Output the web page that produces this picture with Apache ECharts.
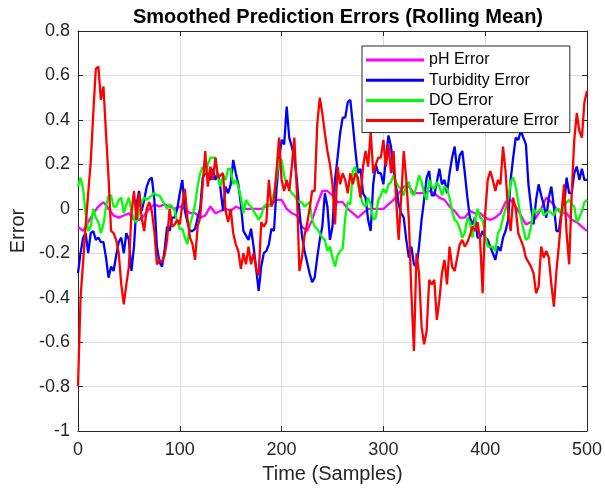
<!DOCTYPE html>
<html>
<head>
<meta charset="utf-8">
<script src="https://cdn.jsdelivr.net/npm/echarts@6/dist/echarts.min.js"></script>
<style>
  html, body { margin: 0; padding: 0; background: #fff; }
  #chart { width: 605px; height: 490px; }
</style>
</head>
<body>
<div id="chart"></div>
<script>
// pH is read every 5 samples, the other three every 2.5 samples (t = 0..500)
const phStep = 5;
const fineStep = 2.5;

const phErr = [
  -0.08, -0.1, -0.06, -0.02, 0.01, 0.03, 0.0, -0.03, -0.04, -0.03,
  -0.02, -0.05, -0.05, -0.03, 0.0, 0.02, 0.01, 0.02, 0.01, 0.0,
  0.01, 0.0, -0.02, -0.02, -0.04, -0.03, 0.01, -0.02, -0.01, 0.0,
  -0.01, 0.01, 0.0, 0.0, 0.0, 0.0, 0.0, 0.01, 0.02, 0.04,
  0.04, 0.0, -0.02, -0.03, -0.08, -0.1, -0.05, 0.02, 0.08, 0.08,
  0.06, 0.03, 0.03, 0.0, -0.02, -0.04, -0.02, 0.0, 0.0, 0.0,
  0.0, 0.02, 0.04, 0.07, 0.1, 0.1, 0.07, 0.07, 0.07, 0.08,
  0.07, 0.05, 0.04, 0.01, -0.01, -0.04, -0.04, -0.01, -0.02, -0.02,
  -0.04, -0.05, -0.04, -0.02, 0.03, 0.04, 0.01, -0.03, -0.07, -0.06,
  -0.04, 0.0, 0.05, 0.03, 0.0, -0.02, -0.02, -0.05, -0.06, -0.08,
  -0.1
];

const turbidityErr = [
  -0.29, -0.2, -0.13, -0.11, -0.2, -0.11, -0.1, -0.14, -0.13, -0.15,
  -0.15, -0.22, -0.31, -0.26, -0.28, -0.21, -0.15, -0.13, -0.2, -0.11,
  -0.14, -0.28, -0.17, 0.02, 0.08, -0.01, 0.04, 0.1, 0.13, 0.14,
  0.04, -0.17, -0.24, -0.26, -0.19, -0.08, -0.1, -0.04, -0.04, 0.0,
  0.07, 0.13, -0.01, -0.06, -0.1, -0.1, -0.09, -0.04, 0.0, 0.14,
  0.16, 0.16, 0.13, 0.18, 0.13, 0.16, 0.09, -0.01, 0.1, 0.07,
  0.11, 0.22, 0.16, 0.11, 0.02, -0.1, -0.12, -0.14, -0.09, -0.17,
  -0.27, -0.37, -0.26, -0.2, -0.19, -0.16, -0.09, -0.1, 0.09, 0.22,
  0.31, 0.29, 0.46, 0.32, 0.28, 0.23, 0.13, -0.01, -0.12, -0.19,
  -0.24, -0.29, -0.33, -0.31, -0.22, -0.14, -0.08, 0.07, 0.01, -0.14,
  -0.08, 0.13, 0.23, 0.34, 0.41, 0.41, 0.48, 0.49, 0.38, 0.26,
  0.16, 0.18, 0.07, 0.05, -0.05, -0.1, 0.11, 0.2, 0.16, 0.16,
  0.11, 0.23, 0.33, 0.28, 0.17, 0.1, 0.02, -0.02, -0.04, -0.14,
  -0.22, -0.17, -0.25, -0.26, -0.17, -0.05, 0.04, 0.14, 0.17, 0.06,
  0.06, 0.12, 0.18, 0.11, 0.13, 0.07, 0.16, 0.23, 0.28, 0.17,
  0.24, 0.26, 0.16, 0.05, -0.04, -0.07, -0.04, -0.13, -0.13, -0.1,
  -0.13, -0.14, -0.17, -0.2, -0.23, -0.17, -0.19, -0.13, -0.1, -0.05,
  0.13, 0.23, 0.32, 0.31, 0.35, 0.32, 0.29, 0.11, 0.01, -0.07,
  0.04, 0.11, 0.06, 0.02, -0.04, 0.05, 0.1, 0.01, -0.1, -0.1,
  -0.01, 0.01, 0.14, 0.07, 0.07, 0.16, 0.19, 0.13, 0.18, 0.13,
  0.13
];

const doErr = [
  0.1, 0.14, 0.09, -0.02, -0.1, -0.08, 0.0, -0.04, -0.06, -0.11,
  -0.07, 0.01, 0.06, 0.06, 0.01, 0.01, 0.04, 0.05, -0.02, 0.02,
  0.05, -0.01, -0.05, -0.06, -0.02, 0.03, 0.05, 0.04, 0.05, 0.06,
  0.07, 0.06, 0.06, 0.04, 0.02, 0.0, 0.02, 0.01, -0.01, -0.06,
  -0.09, -0.09, -0.13, -0.16, -0.07, -0.03, 0.02, 0.1, 0.16, 0.19,
  0.16, 0.2, 0.23, 0.23, 0.23, 0.14, 0.1, 0.15, 0.13, 0.18,
  0.18, 0.11, 0.13, 0.1, 0.05, -0.02, 0.04, 0.02, 0.01, -0.01,
  -0.03, -0.05, -0.03, 0.01, 0.02, 0.01, 0.03, 0.07, 0.14, 0.22,
  0.22, 0.15, 0.11, 0.09, 0.07, 0.06, 0.04, 0.03, 0.03, 0.01,
  0.02, 0.03, -0.05, -0.08, -0.09, -0.11, -0.13, -0.14, -0.19, -0.17,
  -0.22, -0.26, -0.21, -0.19, -0.18, -0.04, 0.03, 0.02, 0.17, 0.19,
  0.11, 0.06, 0.02, 0.01, 0.05, 0.02, -0.05, -0.04, 0.04, 0.06,
  0.09, 0.07, 0.11, 0.12, 0.15, 0.12, 0.1, 0.09, 0.06, 0.11,
  0.12, 0.07, 0.06, 0.1, 0.15, 0.12, 0.07, 0.04, 0.13, 0.1,
  0.09, 0.12, 0.1, 0.06, 0.1, 0.09, 0.05, -0.01, -0.05, -0.06,
  -0.09, -0.13, -0.11, -0.04, -0.06, -0.13, -0.05, 0.0, -0.04, -0.05,
  -0.12, -0.17, -0.17, -0.17, -0.19, -0.11, -0.09, -0.04, 0.0, 0.04,
  0.12, 0.14, 0.1, 0.03, -0.04, -0.09, -0.14, -0.13, -0.08, 0.0,
  -0.02, -0.01, 0.0, -0.03, -0.02, -0.01, -0.02, -0.03, 0.0, 0.0,
  -0.03, 0.01, 0.03, 0.04, 0.02, 0.01, -0.06, -0.04, -0.01, 0.03,
  0.04
];

const tempErr = [
  -0.8, -0.4, -0.24, -0.08, 0.07, 0.21, 0.43, 0.63, 0.64, 0.49,
  0.55, 0.34, 0.14, -0.1, -0.11, -0.14, -0.2, -0.34, -0.43, -0.34,
  -0.26, -0.02, 0.08, -0.05, 0.07, -0.04, -0.1, 0.0, 0.03, -0.01,
  -0.1, -0.25, -0.23, -0.24, -0.21, -0.14, 0.0, -0.08, -0.07, -0.05,
  -0.07, 0.02, 0.09, -0.04, -0.13, -0.16, -0.23, -0.08, -0.04, 0.11,
  0.26, 0.1, 0.19, 0.13, 0.23, 0.14, 0.15, 0.16, -0.01, -0.06,
  0.0, -0.11, -0.16, -0.19, -0.27, -0.2, -0.25, -0.17, -0.25, -0.2,
  -0.27, -0.3, -0.06, -0.08, -0.06, 0.13, 0.01, 0.04, 0.17, 0.32,
  0.13, 0.08, 0.13, 0.08, 0.19, 0.32, 0.08, -0.28, -0.22, -0.12,
  -0.07, 0.0, 0.08, 0.08, 0.38, 0.5, 0.43, 0.34, 0.26, 0.2,
  0.11, -0.07, 0.19, 0.11, 0.16, 0.13, 0.07, 0.16, 0.11, 0.16,
  0.14, 0.05, 0.19, 0.26, 0.19, 0.35, 0.16, 0.2, 0.23, 0.23,
  0.31, 0.19, 0.29, 0.16, 0.26, 0.04, -0.14, 0.05, 0.26, 0.13,
  -0.05, -0.38, -0.64, -0.2, -0.29, -0.53, -0.61, -0.55, -0.32, -0.34,
  -0.32, -0.5, -0.41, -0.29, -0.23, -0.34, -0.17, -0.26, -0.28, -0.22,
  -0.16, -0.14, -0.17, -0.15, -0.12, -0.08, -0.1, -0.06, -0.14, -0.38,
  -0.02, 0.13, 0.17, 0.13, 0.08, 0.13, 0.11, 0.28, 0.17, -0.01,
  -0.1, 0.05, 0.0, -0.11, -0.14, -0.17, -0.22, -0.24, -0.26, -0.29,
  -0.38, -0.35, -0.17, -0.22, -0.19, -0.22, -0.34, -0.44, -0.28, -0.16,
  -0.02, 0.11, -0.11, -0.25, 0.07, 0.31, 0.43, 0.35, 0.32, 0.48,
  0.53
];

const seriesNames = ["pH Error", "Turbidity Error", "DO Error", "Temperature Error"];
const seriesColors = ["#ff00ff", "#0000ff", "#00ff00", "#ff0000"];
const xTicks = [0, 100, 200, 300, 400, 500];

function toPairs(values, step) {
  return values.map(function (v, i) { return [i * step, v]; });
}

const axisColor = "#262626";
const gridColor = "#dedede";
const fontFam = "Liberation Sans, Arial, sans-serif";

var chart = echarts.init(document.getElementById("chart"), null, { renderer: "canvas" });

var allData = [
  toPairs(phErr, phStep),
  toPairs(turbidityErr, fineStep),
  toPairs(doErr, fineStep),
  toPairs(tempErr, fineStep)
];
var series = allData.map(function (pairs, i) {
  return {
    name: seriesNames[i],
    type: "line",
    data: pairs,
    showSymbol: false,
    symbol: "none",
    lineStyle: { color: seriesColors[i], width: 2.3 },
    itemStyle: { color: seriesColors[i] },
    z: 2 + i
  };
});

chart.setOption({
  animation: false,
  backgroundColor: "#fff",
  title: {
    text: "Smoothed Prediction Errors (Rolling Mean)",
    left: 333,
    top: 2,
    textAlign: "center",
    textStyle: { fontFamily: fontFam, fontSize: 20, fontWeight: "bold", color: "#000" }
  },
  grid: { left: 78, right: 16, top: 31, bottom: 59, containLabel: false },
  legend: {
    orient: "vertical",
    left: 362,
    top: 46,
    data: seriesNames.map(function (n) { return { name: n, icon: "rect" }; }),
    itemWidth: 58,
    itemHeight: 3,
    itemGap: 4.2,
    padding: [6, 11, 4, 4],
    backgroundColor: "#fff",
    borderColor: axisColor,
    borderWidth: 1,
    borderRadius: 0,
    z: 20,
    textStyle: { fontFamily: fontFam, fontSize: 16, color: "#000", lineHeight: 16 }
  },
  xAxis: [
    {
      type: "value",
      min: xTicks[0],
      max: xTicks[xTicks.length - 1],
      interval: 100,
      name: "Time (Samples)",
      nameLocation: "middle",
      nameGap: 33,
      nameTextStyle: { fontFamily: fontFam, fontSize: 20, color: axisColor },
      axisLine: { show: true, onZero: false, lineStyle: { color: axisColor, width: 1 } },
      axisTick: { show: true, inside: true, length: 5, lineStyle: { color: axisColor } },
      axisLabel: { fontFamily: fontFam, fontSize: 18, color: axisColor, margin: 10 },
      splitLine: { show: true, lineStyle: { color: gridColor, width: 1 } }
    },
    {
      type: "value",
      position: "top",
      min: xTicks[0],
      max: xTicks[xTicks.length - 1],
      interval: 100,
      axisLine: { show: true, onZero: false, lineStyle: { color: axisColor, width: 1 } },
      axisTick: { show: true, inside: true, length: 5, lineStyle: { color: axisColor } },
      axisLabel: { show: false },
      splitLine: { show: false }
    }
  ],
  yAxis: [
    {
      type: "value",
      min: -1,
      max: 0.8,
      interval: 0.2,
      name: "Error",
      nameLocation: "middle",
      nameGap: 50,
      nameTextStyle: { fontFamily: fontFam, fontSize: 20, color: axisColor },
      axisLine: { show: true, onZero: false, lineStyle: { color: axisColor, width: 1 } },
      axisTick: { show: true, inside: true, length: 5, lineStyle: { color: axisColor } },
      axisLabel: {
        fontFamily: fontFam, fontSize: 18, color: axisColor, margin: 8,
        formatter: function (v) { return String(+v.toFixed(1)); }
      },
      splitLine: { show: true, lineStyle: { color: gridColor, width: 1 } }
    },
    {
      type: "value",
      position: "right",
      min: -1,
      max: 0.8,
      interval: 0.2,
      axisLine: { show: true, onZero: false, lineStyle: { color: axisColor, width: 1 } },
      axisTick: { show: true, inside: true, length: 5, lineStyle: { color: axisColor } },
      axisLabel: { show: false },
      splitLine: { show: false }
    }
  ],
  series: series
});
</script>
</body>
</html>
